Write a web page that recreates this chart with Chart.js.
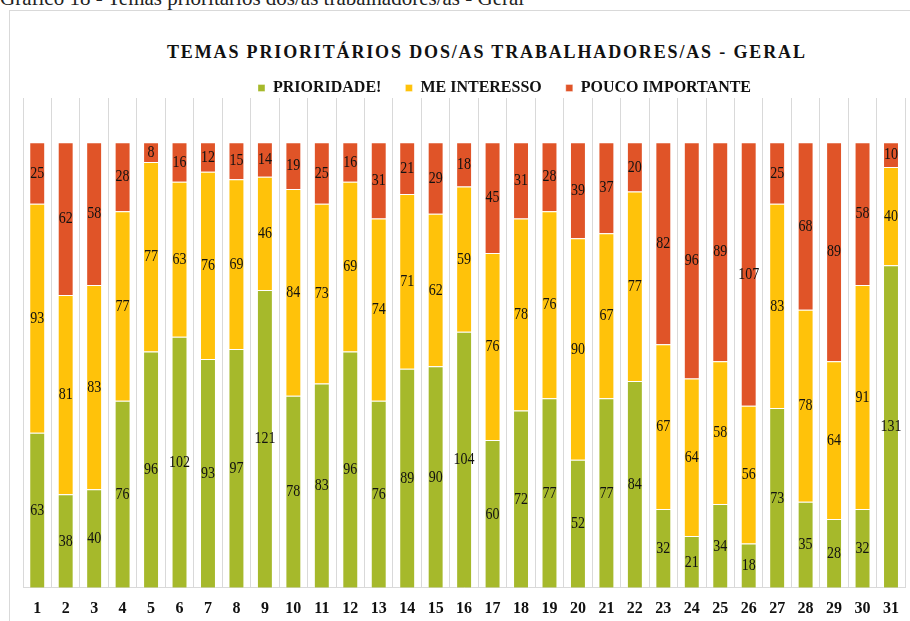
<!DOCTYPE html>
<html>
<head>
<meta charset="utf-8">
<script src="https://cdn.jsdelivr.net/npm/chart.js@4.4.0/dist/chart.umd.min.js"></script>
<style>
    body {
        margin: 0;
        width: 910px;
        height: 621px;
        overflow: hidden;
        position: relative;
        background: #fff;
        font-family: 'Liberation Serif', 'Times New Roman', serif;
    }
    .caption {
        position: absolute;
        left: 0;
        top: -12px;
        font-size: 21px;
        line-height: 21px;
        color: #222;
        white-space: nowrap;
    }
    .frame {
        position: absolute;
        left: 9px;
        top: 10px;
        width: 1000px;
        height: 700px;
        border: 1px solid #d9d9d9;
    }
    .title {
        position: absolute;
        left: 167px;
        top: 42px;
        font-size: 18px;
        line-height: 20px;
        font-weight: bold;
        letter-spacing: 1.85px;
        white-space: nowrap;
        color: #111;
    }
    .chart-box {
        position: absolute;
        left: 0;
        top: 0;
        width: 910px;
        height: 633px;
    }
</style>
</head>
<body>
<div class="caption">Gráfico 18 - Temas prioritários dos/as trabalhadores/as - Geral</div>
<div class="frame"></div>
<div class="title">TEMAS PRIORITÁRIOS DOS/AS TRABALHADORES/AS - GERAL</div>
<div class="chart-box"><canvas id="myChart"></canvas></div>

<script>
// categories (temas 1..31)
const temas = ['1', '2', '3', '4', '5', '6', '7', '8', '9', '10', '11', '12', '13', '14', '15', '16',
    '17', '18', '19', '20', '21', '22', '23', '24', '25', '26', '27', '28', '29', '30', '31'];

// answers per tema
const prioridade = [63, 38, 40, 76, 96, 102, 93, 97, 121, 78, 83, 96, 76, 89, 90, 104,
    60, 72, 77, 52, 77, 84, 32, 21, 34, 18, 73, 35, 28, 32, 131];
const meInteresso = [93, 81, 83, 77, 77, 63, 76, 69, 46, 84, 73, 69, 74, 71, 62, 59,
    76, 78, 76, 90, 67, 77, 67, 64, 58, 56, 83, 78, 64, 91, 40];
const poucoImportante = [25, 62, 58, 28, 8, 16, 12, 15, 14, 19, 25, 16, 31, 21, 29, 18,
    45, 31, 28, 39, 37, 20, 82, 96, 89, 107, 25, 68, 89, 58, 10];

const ctx = document.getElementById('myChart').getContext('2d');

// draws the number in the middle of every segment
const segmentLabels = {
    id: 'segmentLabels',
    afterDatasetsDraw(chart) {
        const c = chart.ctx;
        c.save();
        c.font = '14px "Liberation Serif"';
        c.fillStyle = '#111';
        c.textAlign = 'center';
        c.textBaseline = 'middle';
        chart.data.datasets.forEach((ds, i) => {
            const meta = chart.getDatasetMeta(i);
            meta.data.forEach((bar, j) => {
                const y = (bar.y + bar.base) / 2;
                c.save();
                c.translate(bar.x, y);
                c.scale(1, 1.25);
                c.fillText(ds.data[j], 0, 0);
                c.restore();
            });
        });
        c.restore();
    }
};

// pull the plot a bit closer to the legend, and push the legend to the right
const legendGap = {
    id: 'legendGap',
    beforeInit(chart) {
        const fit = chart.legend.fit;
        chart.legend.fit = function () {
            fit.bind(chart.legend)();
            this.height -= 8;
        };
    },
    afterLayout(chart) {
        chart.legend.left += 76;
    }
};

const config = {
    type: 'bar',
    data: {
        labels: temas,
        datasets: [{
            label: 'PRIORIDADE!',
            data: prioridade,
            backgroundColor: 'rgb(166, 185, 43)'
        }, {
            label: 'ME INTERESSO',
            data: meInteresso,
            backgroundColor: 'rgb(255, 194, 10)'
        }, {
            label: 'POUCO IMPORTANTE',
            data: poucoImportante,
            backgroundColor: 'rgb(224, 84, 40)'
        }]
    },
    options: {
        responsive: true,
        maintainAspectRatio: false,
        animation: false,
        datasets: {
            bar: {
                barPercentage: 0.56,
                categoryPercentage: 1,
                borderWidth: 1,
                borderColor: 'rgba(255, 255, 255, 0.35)'
            }
        },
        layout: {
            padding: { top: 56, left: 23, right: 0, bottom: 4 }
        },
        plugins: {
            legend: {
                position: 'top',
                labels: {
                    boxWidth: 7,
                    boxHeight: 7,
                    padding: 24,
                    color: '#111',
                    font: { family: 'Liberation Serif', size: 16, weight: 'bold' }
                }
            },
            tooltip: { enabled: false }
        },
        scales: {
            x: {
                stacked: true,
                grid: {
                    color: '#d9d9d9',
                    drawTicks: false
                },
                border: { color: '#d9d9d9' },
                ticks: {
                    padding: 11,
                    color: '#111',
                    font: { family: 'Liberation Serif', size: 16, weight: 'bold' }
                }
            },
            y: {
                stacked: true,
                display: false,
                min: 0,
                max: 199
            }
        }
    },
    plugins: [segmentLabels, legendGap]
};

const chart = new Chart(ctx, config);
</script>
</body>
</html>
